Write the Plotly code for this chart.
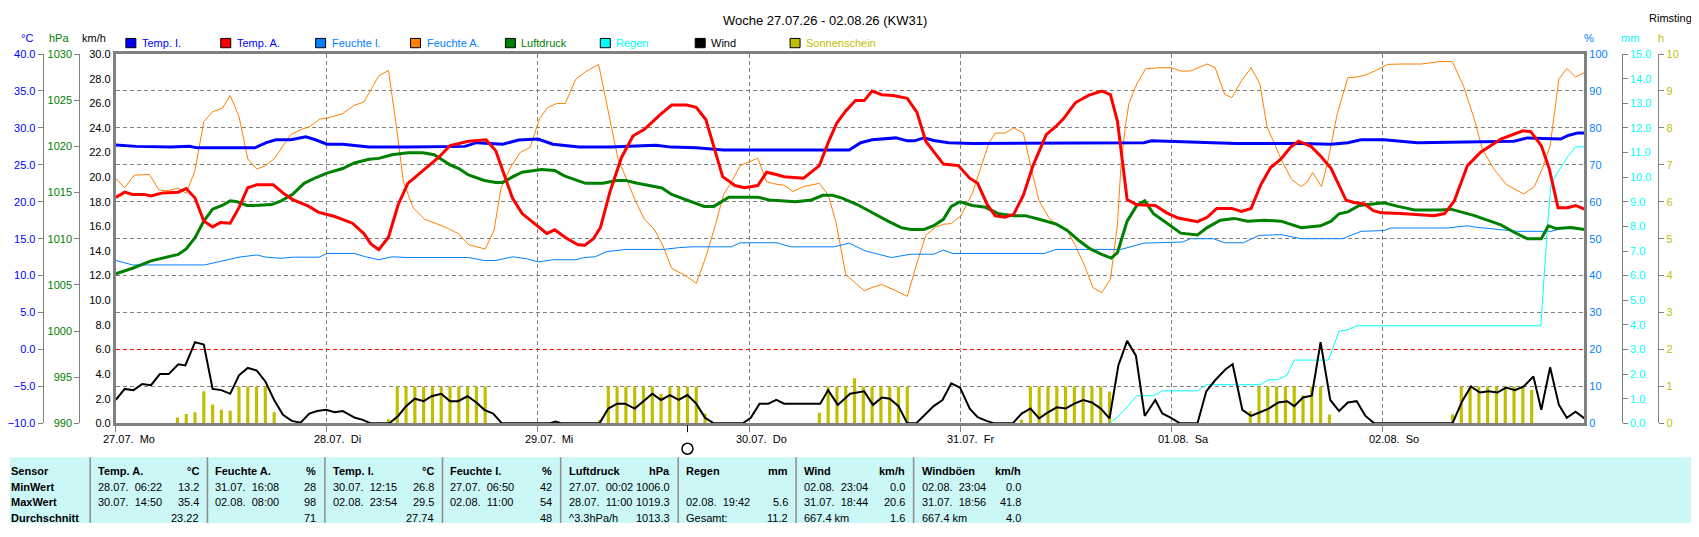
import plotly.graph_objects as go

# the page body has an 8px margin on every side, so the figure is drawn 16px smaller
OFF = 8
W, H = 1699 - OFF, 537 - 2 * OFF

# time axis: hours since 27.07.26 00:00
x_end = 166.97
day_hours = [0, 24, 48, 72, 96, 120, 144]
day_labels = ["27.07.  Mo", "28.07.  Di", "29.07.  Mi", "30.07.  Do", "31.07.  Fr", "01.08.  Sa", "02.08.  So"]

# (hour, value) pairs
temp_i = [(0, 27.7), (1, 27.6), (2.3, 27.5), (6.2, 27.4), (8.4, 27.5), (9.2, 27.3), (15.8, 27.3), (17.1, 28.0),
          (18.2, 28.4), (19.9, 28.4), (21.6, 28.8), (22.7, 28.4), (24, 27.8), (25.8, 27.8), (28.8, 27.4),
          (33.2, 27.4), (39.7, 27.5), (41, 28.0), (44, 27.8), (45.8, 28.35), (48, 28.5), (49.7, 27.8),
          (52.7, 27.4), (56.2, 27.4), (61.4, 27.65), (63.2, 27.4), (66, 27.3), (69.1, 27.0), (83.4, 27.0),
          (84.7, 28.0), (86, 28.4), (88.7, 28.65), (90, 28.25), (90.8, 28.25), (91.9, 28.65), (93, 28.3),
          (94.7, 28.0), (97.4, 27.9), (106.9, 27.9), (107.8, 28.0), (114.3, 27.9), (116.9, 28.0), (117.8, 28.25),
          (119.1, 28.2), (123, 28.1), (127.4, 27.9), (134.8, 27.9), (138.2, 27.8), (140.1, 28.0), (141.6, 28.4),
          (144.2, 28.4), (146.1, 28.2), (148, 28.0), (159, 28.2), (160.5, 28.65), (164.3, 28.5), (165.1, 28.95),
          (166.2, 29.3), (167, 29.3)]

temp_a = [(0, 20.6), (1, 21.3), (1.9, 21.0), (3.2, 21.0), (4, 20.8), (5.3, 21.2), (7.1, 21.3), (8, 21.8),
          (9, 20.5), (10, 17.4), (11, 16.6), (11.9, 17.2), (13, 17.1), (14, 19.2), (15, 21.9), (16, 22.3),
          (17.9, 22.3), (19, 21.2), (20.1, 20.3), (21.9, 19.4), (23, 18.6), (24.9, 18.0), (26.9, 17.1),
          (28.2, 15.7), (29, 14.3), (29.9, 13.5), (31, 15.2), (32.1, 19.6), (33.2, 22.5), (34.7, 24.0),
          (36.7, 26.0), (38, 27.6), (40.1, 28.2), (42.1, 28.4), (43.2, 26.9), (44.3, 23.2), (45.1, 20.5),
          (46.2, 18.4), (47.5, 17.1), (49, 15.7), (49.9, 16.2), (51.2, 15.1), (52.5, 14.2), (53.3, 14.1),
          (54.3, 15.0), (55.1, 16.5), (56.2, 21.4), (57.5, 26.0), (58.8, 28.9), (60.1, 29.8), (61.9, 31.8),
          (63.2, 33.1), (64.9, 33.1), (66, 32.8), (67.1, 31.1), (68, 27.6), (69, 23.4), (70.4, 22.2),
          (71.5, 21.9), (73, 22.2), (74, 24.0), (75.1, 23.7), (76, 23.4), (78.2, 23.2), (80, 24.9), (81, 28.0),
          (82, 30.7), (83, 32.3), (84.1, 33.7), (85.1, 33.7), (86, 35.0), (87.1, 34.5), (88.4, 34.4),
          (90, 34.0), (91.1, 32.1), (92.1, 28.2), (94.1, 25.1), (95.8, 24.9), (97.1, 23.2), (98, 22.5),
          (99.1, 19.6), (100, 18.1), (101.1, 17.9), (102.1, 18.3), (103.2, 20.9), (104.3, 24.9), (105.8, 29.1),
          (106.9, 30.2), (107.8, 31.3), (109.1, 33.4), (110.6, 34.4), (112.1, 35.0), (113.1, 34.5),
          (113.9, 30.9), (114.5, 24.9), (115, 20.3), (116.1, 19.6), (118.2, 19.5), (119.5, 18.5), (120.8, 17.8),
          (123, 17.3), (124.1, 17.9), (125.2, 19.1), (126.9, 19.1), (128, 18.7), (129.1, 19.1), (130.2, 22.3),
          (131.3, 24.6), (132.5, 25.8), (133.6, 27.4), (134.5, 28.2), (135.9, 27.5), (137, 26.2), (138.2, 24.5),
          (139.9, 20.2), (140.8, 19.9), (142, 19.7), (143, 18.8), (143.9, 18.5), (146.1, 18.4), (149.9, 18.1),
          (151.1, 18.4), (152.2, 20.1), (153.7, 24.9), (155.2, 26.7), (157.5, 28.5), (160, 29.6), (160.9, 29.5),
          (162.1, 27.6), (163, 24.5), (164, 19.2), (165.1, 19.2), (166, 19.5), (167, 19.0)]

feuchte_a = [(0, 66.3), (1, 63.8), (2.1, 67.2), (3.8, 67.4), (4.9, 63.2), (6, 63.0), (7.1, 63.7), (8, 62.3),
             (9, 68.5), (10, 81.7), (11, 84.4), (12.1, 85.3), (13, 88.8), (14, 83.1), (15, 71.6), (16, 68.9),
             (16.9, 69.6), (18, 71.6), (19, 75.1), (19.9, 78.2), (21, 79.5), (22.1, 80.4), (23.2, 82.4),
             (24, 82.6), (25.8, 83.9), (27.1, 86.1), (28.2, 87.0), (29, 90.5), (29.9, 94.1), (31, 95.6),
             (31.9, 80.4), (32.7, 65.4), (33.8, 58.4), (35.1, 55.3), (36.4, 54.1), (37.5, 53.1), (39, 51.3),
             (40.1, 48.4), (42, 47.2), (43, 52.2), (43.8, 63.7), (44.9, 69.4), (46, 73.4), (47.1, 74.7),
             (48.2, 82.6), (49.1, 85.5), (50.1, 86.6), (51.1, 86.6), (52.3, 93.2), (53.4, 95.2), (54.9, 97.2),
             (56.2, 82.2), (57.1, 71.6), (58.2, 65.4), (59.1, 60.1), (60.1, 55.3), (61.2, 52.6), (62.1, 48.7),
             (63.2, 42.0), (64.9, 39.8), (66, 37.9), (67.1, 45.1), (68.2, 53.9), (69.1, 61.9), (70, 65.4),
             (71, 69.8), (73, 71.8), (74, 65.4), (75.2, 64.7), (76, 64.5), (77, 62.8), (78.2, 64.1), (80, 65.0),
             (81, 61.9), (81.9, 54.4), (83, 40.3), (84.1, 38.1), (85.1, 35.9), (86, 36.8), (87.1, 37.6),
             (88.7, 35.9), (90, 34.4), (91.1, 43.4), (92.1, 50.9), (93.2, 53.1), (94.1, 53.9), (95, 54.1),
             (96.1, 56.2), (97.4, 62.3), (98.4, 69.8), (99.3, 76.0), (100, 78.6), (101.1, 78.6), (102.1, 80.0),
             (103.2, 78.6), (104.1, 68.9), (105, 60.1), (106.1, 55.7), (107.1, 53.5), (108.2, 52.2),
             (109.1, 48.2), (110.2, 42.5), (111.1, 36.8), (112.1, 35.4), (113.1, 39.0), (113.9, 53.9),
             (114.3, 69.8), (114.8, 80.4), (115.2, 86.6), (116.1, 91.9), (117.1, 96.0), (118.7, 96.3),
             (120, 96.3), (121.1, 95.4), (122.2, 95.4), (124.1, 97.3), (125, 96.3), (126.1, 89.1), (126.9, 88.2),
             (128, 92.8), (129.1, 96.3), (130.1, 91.9), (130.9, 80.4), (131.7, 76.0), (132.5, 71.6),
             (133.7, 66.0), (134.8, 64.1), (135.5, 65.4), (136.1, 67.9), (137.1, 64.1), (137.8, 70.7),
             (138.9, 83.9), (140.1, 93.6), (141.2, 93.8), (142.3, 94.5), (143.5, 95.8), (144.6, 97.2),
             (146.1, 97.3), (148.4, 97.3), (150.7, 98.0), (152, 97.9), (153.3, 91.0), (154.5, 82.2),
             (155.4, 74.2), (156.7, 68.9), (158.1, 64.7), (159, 63.5), (160.1, 62.1), (161.3, 64.1),
             (162.2, 68.9), (163.1, 75.1), (163.6, 83.9), (164.1, 93.2), (165, 96.1), (166, 93.8), (167, 95.0)]

feuchte_i = [(0, 44.1), (1.9, 42.9), (10.1, 42.9), (12.3, 44.1), (14, 45.0), (16, 45.6), (17.1, 45.0),
             (18.8, 44.7), (20.1, 45.0), (23.1, 45.0), (24, 46.0), (27.1, 46.0), (28.4, 45.1), (29.9, 44.3),
             (31.4, 45.1), (33.2, 44.9), (40.1, 44.9), (41.9, 44.1), (43.2, 44.1), (45.1, 45.1), (46.7, 44.6),
             (48, 43.7), (49.7, 44.3), (52.3, 44.3), (53.2, 44.9), (54.5, 45.1), (55.8, 46.5), (58, 47.1),
             (62.3, 47.1), (64.1, 47.6), (65.6, 47.8), (70, 47.8), (71, 48.9), (75.2, 48.9), (76.7, 47.8),
             (81.7, 47.8), (83.4, 48.8), (85.2, 46.7), (88.2, 44.9), (90.4, 45.8), (93, 45.8), (94.1, 46.9),
             (95.2, 46.0), (105.6, 46.0), (106.9, 47.1), (114.3, 47.1), (116.9, 48.8), (121.3, 49.1),
             (122.2, 50.0), (124.8, 50.0), (126.1, 48.9), (128.2, 48.9), (130, 50.9), (132.5, 51.1),
             (134.8, 50.0), (139.5, 50.0), (140.5, 51.0), (141.6, 52.0), (144.2, 52.2), (145, 52.9),
             (151.4, 52.9), (153.7, 53.5), (154.7, 53.1), (157.5, 52.5), (159.4, 52.0), (163.2, 52.0),
             (164.7, 52.9), (167, 52.5)]

luftdruck = [(0, 1006.2), (1.9, 1006.8), (4, 1007.6), (5.3, 1007.9), (7.1, 1008.3), (8, 1008.9), (9, 1010.1),
             (10, 1011.9), (11, 1013.2), (12.1, 1013.6), (13, 1014.1), (13.8, 1014.0), (14.9, 1013.6),
             (15.8, 1013.6), (17.7, 1013.7), (18.8, 1014.1), (20.1, 1014.8), (21.4, 1016.0), (22.7, 1016.6),
             (24, 1017.1), (25.8, 1017.6), (27.1, 1018.2), (28.8, 1018.6), (29.9, 1018.7), (31.4, 1019.1),
             (33.2, 1019.3), (34.9, 1019.3), (36.2, 1019.1), (38, 1018.0), (39, 1017.6), (40.1, 1016.9),
             (41.9, 1016.3), (43.2, 1016.1), (44, 1016.1), (45.1, 1016.7), (46.2, 1017.2), (48.4, 1017.5),
             (49.9, 1017.4), (51, 1016.8), (53.4, 1016.0), (55.4, 1016.0), (56.9, 1016.3), (58, 1016.3),
             (59.3, 1016.0), (61, 1015.7), (62.1, 1015.5), (63.2, 1014.8), (64.9, 1014.2), (65.6, 1013.9),
             (66.9, 1013.5), (68, 1013.5), (69.1, 1014.2), (69.7, 1014.5), (73, 1014.5), (74.3, 1014.2),
             (75.6, 1014.1), (77.3, 1014.0), (79.1, 1014.2), (80.4, 1014.7), (81.5, 1014.7), (82.6, 1014.4),
             (84.3, 1013.7), (86, 1012.8), (87.8, 1011.9), (89.3, 1011.2), (90.4, 1011.0), (91.9, 1011.0),
             (93, 1011.4), (94.1, 1012.1), (95, 1013.5), (96, 1014.0), (97.4, 1013.6), (98.9, 1013.4),
             (100.4, 1012.7), (102.1, 1012.5), (103.4, 1012.5), (105, 1012.1), (106.9, 1011.6), (108.2, 1010.9),
             (109.5, 1009.8), (110.8, 1008.9), (112.1, 1008.3), (113.2, 1007.9), (113.9, 1008.5), (115, 1011.9),
             (116.1, 1013.6), (117, 1014.1), (118, 1012.7), (119.5, 1011.7), (121.1, 1010.6), (123, 1010.4),
             (124.1, 1011.2), (125.6, 1012.0), (127.2, 1012.2), (128.7, 1011.9), (130.6, 1012.0),
             (132.5, 1011.9), (134.8, 1011.2), (137, 1011.4), (138.2, 1011.9), (139.1, 1012.7), (140.1, 1012.9),
             (141.4, 1013.6), (142.3, 1013.7), (144.2, 1013.9), (145.8, 1013.5), (147.7, 1013.1),
             (150.7, 1013.1), (151.8, 1013.2), (154.5, 1012.5), (157.5, 1011.5), (159, 1010.7), (160.5, 1010.0),
             (162.1, 1010.0), (162.9, 1011.4), (163.8, 1011.1), (165.5, 1011.2), (167, 1011.0)]

regen = [(113, 0.0), (114, 0.28), (115, 0.67), (116.1, 1.12), (118, 1.12), (119, 1.32), (123, 1.32), (124, 1.57),
         (130.1, 1.57), (131.1, 1.77), (132.1, 1.77), (133.2, 1.96), (134, 2.57), (137.9, 2.57), (139.1, 3.74),
         (140.1, 3.8), (141.1, 3.96), (162.05, 3.96), (162.8, 8.0), (163.2, 9.7), (163.8, 10.1), (165.1, 10.83),
         (166, 11.23), (167, 11.23)]

wind = [(0, 1.9), (1, 2.8), (2, 2.7), (3, 3.2), (4, 3.1), (5, 4.0), (6, 4.0), (7.1, 4.8), (7.9, 4.7), (9, 6.6),
        (10, 6.4), (11, 2.8), (12, 2.7), (13, 2.4), (14, 3.9), (15, 4.5), (16, 4.3), (17, 3.4), (18, 1.9),
        (19, 0.7), (20, 0.2), (21, 0.05), (22, 0.8), (22.9, 1.0), (23.9, 1.1), (24.9, 0.9), (25.8, 1.0),
        (27.2, 0.45), (28, 0.3), (29, 0), (31.1, 0), (32.1, 0.6), (33, 1.4), (34, 2.0), (35, 1.8), (35.9, 2.2),
        (37, 2.4), (38, 1.8), (38.9, 1.8), (40, 2.2), (41, 1.7), (41.9, 1.1), (42.9, 0.8), (43.9, 0), (49.3, 0),
        (50, 0.15), (50.7, 0), (55, 0), (56, 1.2), (57, 1.6), (57.9, 1.6), (59, 1.2), (60, 1.8), (61, 2.4),
        (62, 1.9), (63, 2.3), (64, 1.9), (65, 2.3), (66, 1.6), (67, 0.45), (68, 0), (71.3, 0), (72.2, 0.45),
        (73.2, 1.6), (74.2, 1.6), (75.1, 1.9), (76, 1.6), (80.1, 1.6), (81, 2.7), (82.1, 1.5), (83.5, 2.4),
        (85.1, 2.6), (86.1, 1.5), (87.1, 2.1), (88, 2.0), (89, 1.4), (90, 0), (91, 0), (92, 0.7), (93, 1.4),
        (94, 1.9), (95, 3.25), (96, 2.9), (97.1, 1.2), (98, 0.5), (99, 0.2), (99.9, 0), (102, 0), (103, 0.8),
        (104, 1.2), (105, 0.4), (106, 0.9), (107, 1.3), (108, 1.2), (109, 1.6), (110, 1.9), (111, 1.7),
        (112, 1.2), (113, 0.4), (114, 4.7), (115, 6.7), (116, 5.5), (117, 0.6), (118.2, 1.9), (119, 0.8),
        (120, 0.45), (121, 0), (123, 0), (124, 2.6), (125, 3.5), (126.2, 4.4), (127, 4.8), (128.1, 1.1),
        (129.1, 0.6), (130.1, 0.9), (131.1, 1.2), (132.2, 1.7), (133.2, 1.8), (134, 1.4), (135, 2.1),
        (136, 2.25), (137, 6.6), (138.1, 1.9), (139.1, 1.0), (140.1, 1.7), (141.1, 1.8), (142.1, 0.6),
        (143.1, 0), (152, 0), (153.1, 1.8), (154.1, 3.0), (155.1, 2.5), (156.1, 2.6), (157.1, 2.5),
        (158.1, 2.9), (159.1, 2.7), (160.1, 3.0), (161.2, 3.8), (162.1, 1.1), (163.1, 4.55), (164.1, 1.5),
        (165, 0.45), (166, 0.95), (167, 0.4)]

sonne = [(7, 0.16), (8, 0.25), (9, 0.3), (10, 0.87), (11, 0.51), (12, 0.37), (13, 0.34), (14, 1), (15, 1),
         (16, 1), (17, 1), (18, 0.3),
         (31, 0.11), (32, 1), (33, 1), (34, 1), (35, 1), (36, 1), (37, 1), (38, 1), (39, 1), (40, 1), (41, 1),
         (42, 1),
         (55, 0.09), (56, 1), (57, 1), (58, 1), (59, 1), (60, 1), (61, 1), (62, 0.8), (63, 1), (64, 1), (65, 1),
         (66, 1), (67, 0.27),
         (80, 0.29), (81, 1), (82, 1), (83, 1), (84, 1.22), (85, 1), (86, 1), (87, 1), (88, 1), (89, 1), (90, 1),
         (103, 0.1), (104, 1), (105, 1), (106, 1), (107, 1), (108, 1), (109, 1), (110, 1), (111, 1), (112, 1),
         (113, 0.86),
         (129, 0.33), (130, 1), (131, 1), (132, 1), (133, 1), (134, 1), (135, 0.76), (136, 1), (137, 1),
         (138, 0.24),
         (152, 0.24), (153, 1), (154, 1), (155, 1), (156, 1), (157, 1), (158, 1), (159, 1), (160, 1), (161, 0.9)]

moon_hour = 65  # full moon marker
wind_limit_pct = 20  # red dashed line

legend_names = ["Temp. I.", "Temp. A.", "Feuchte I.", "Feuchte A.", "Luftdruck", "Regen", "Wind", "Sonnenschein"]

row_labels = ["Sensor", "MinWert", "MaxWert", "Durchschnitt"]
table_head = [("Temp. A.", "°C"), ("Feuchte A.", "%"), ("Temp. I.", "°C"), ("Feuchte I.", "%"),
              ("Luftdruck", "hPa"), ("Regen", "mm"), ("Wind", "km/h"), ("Windböen", "km/h")]
table_min = [("28.07.  06:22", "13.2"), ("31.07.  16:08", "28"), ("30.07.  12:15", "26.8"),
             ("27.07.  06:50", "42"), ("27.07.  00:02", "1006.0"), ("", ""), ("02.08.  23:04", "0.0"),
             ("02.08.  23:04", "0.0")]
table_max = [("30.07.  14:50", "35.4"), ("02.08.  08:00", "98"), ("02.08.  23:54", "29.5"),
             ("02.08.  11:00", "54"), ("28.07.  11:00", "1019.3"), ("02.08.  19:42", "5.6"),
             ("31.07.  18:44", "20.6"), ("31.07.  18:56", "41.8")]
table_avg = [("", "23.22"), ("", "71"), ("", "27.74"), ("", "48"), ("^3.3hPa/h", "1013.3"),
             ("Gesamt:", "11.2"), ("667.4 km", "1.6"), ("667.4 km", "4.0")]

BLUE, RED, FI, FA = "#0000ff", "#ff0000", "#0080ff", "#ff8000"
GREEN, CYAN, BLACK, OLIVE = "#008000", "#00ffff", "#000000", "#bfbf00"
GRAY = "#808080"
FONT = "Liberation Sans"

legend_box = [BLUE, RED, FI, FA, GREEN, CYAN, BLACK, OLIVE]
legend_txt = [BLUE, BLUE, FI, FI, GREEN, CYAN, BLACK, OLIVE]


# positions below are given in pixels of the 1699x537 page
def xp(px):
    return (px - OFF) / W


def yp(py):
    return 1 - (py - OFF) / H


def split(pairs):
    return [p[0] for p in pairs], [p[1] for p in pairs]


def nb(s):
    return s.replace("  ", "\u00a0 ")


fig = go.Figure()

sx, sy = split(sonne)
fig.add_trace(go.Bar(x=sx, y=sy, width=0.36, marker=dict(color=OLIVE, line_width=0), yaxis="y"))

# red dashed line over the 20 % grid line (white underlay hides the grey dash)
for col, dash in [("white", "solid"), (RED, "4px,3px")]:
    fig.add_trace(go.Scatter(x=[0, x_end], y=[wind_limit_pct, wind_limit_pct], mode="lines",
                             line=dict(color=col, width=1, dash=dash), yaxis="y2"))

for data, col in [(feuchte_a, FA), (feuchte_i, FI)]:
    hx, hy = split(data)
    fig.add_trace(go.Scatter(x=hx, y=hy, mode="lines", line=dict(color=col, width=1), yaxis="y2"))

rx, ry = split(regen)
fig.add_trace(go.Scatter(x=rx, y=ry, mode="lines", line=dict(color=CYAN, width=1), yaxis="y3"))

lx, ly = split(luftdruck)
fig.add_trace(go.Scatter(x=lx, y=ly, mode="lines", line=dict(color=GREEN, width=3), yaxis="y4"))

for data, col in [(temp_i, BLUE), (temp_a, RED)]:
    tx, ty = split(data)
    fig.add_trace(go.Scatter(x=tx, y=ty, mode="lines", line=dict(color=col, width=3), yaxis="y5"))

wx, wy = split(wind)
fig.add_trace(go.Scatter(x=wx, y=wy, mode="lines", line=dict(color=BLACK, width=2), yaxis="y6"))

tick_font = dict(family=FONT, size=11)
dom = [yp(427), yp(49)]

fig.update_layout(
    width=W, height=H, autosize=False,
    margin=dict(l=0, r=0, t=0, b=0),
    paper_bgcolor="white", plot_bgcolor="white",
    showlegend=False,
    font=dict(family=FONT, size=11, color="black"),
    xaxis=dict(domain=[xp(114), xp(1584)], range=[0, x_end], tickvals=day_hours, showticklabels=False,
               ticks="outside", ticklen=6, tickcolor=GRAY, showgrid=True, gridcolor=GRAY, griddash="4px,3px",
               showline=True, linecolor=GRAY, linewidth=3, mirror=True, zeroline=False),
    yaxis=dict(domain=dom, range=[0, 10], dtick=1, anchor="free", position=xp(1658.3), side="right",
               showline=True, linecolor=GRAY, linewidth=1, ticks="outside", ticklen=5, tickcolor=GRAY,
               tickfont=dict(tick_font, color=OLIVE), showgrid=False, zeroline=False),
    yaxis2=dict(range=[0, 100], dtick=10, overlaying="y", anchor="x", side="right", showline=True,
                linecolor=GRAY, linewidth=3, ticks="", tickfont=dict(tick_font, color=FI),
                showgrid=True, gridcolor=GRAY, griddash="4px,3px", zeroline=False),
    yaxis3=dict(range=[0, 15], dtick=1, tickformat=".1f", overlaying="y", anchor="free", position=xp(1621.7),
                side="right", showline=True, linecolor=GRAY, linewidth=1, ticks="outside", ticklen=5,
                tickcolor=GRAY, tickfont=dict(tick_font, color=CYAN), showgrid=False, zeroline=False),
    yaxis4=dict(range=[990, 1030], dtick=5, overlaying="y", anchor="free", position=xp(77.3), side="left",
                showline=True, linecolor=GRAY, linewidth=1, ticks="outside", ticklen=5, tickcolor=GRAY,
                tickfont=dict(tick_font, color=GREEN), showgrid=False, zeroline=False),
    yaxis5=dict(range=[-10, 40], dtick=5, tickformat=".1f", overlaying="y", anchor="free", position=xp(40.7),
                side="left", showline=True, linecolor=GRAY, linewidth=1, ticks="outside", ticklen=5,
                tickcolor=GRAY, tickfont=dict(tick_font, color=BLUE), showgrid=False, zeroline=False),
    yaxis6=dict(range=[0, 30], dtick=2, tickformat=".1f", overlaying="y", anchor="x", side="left",
                showline=True, linecolor=GRAY, linewidth=3, ticks="", tickfont=dict(tick_font, color=BLACK),
                showgrid=False, zeroline=False),
)


def text(x, y, s, color="black", size=11, anchor="left", bold=False):
    if bold:
        s = "<b>" + s + "</b>"
    fig.add_annotation(x=x, y=y, xref="paper", yref="paper", text=nb(s), showarrow=False, xanchor=anchor,
                       yanchor="middle", font=dict(family=FONT, size=size, color=color), borderpad=0)


# title and station
text(xp(823.5), yp(15), "Woche 27.07.26 - 02.08.26 (KW31)", size=13, anchor="center")
text(xp(1693), yp(12.5), "Rimsting", size=11, anchor="right")

# axis headers
for cx, s, col in [(25, "°C", BLUE), (57.5, "hPa", GREEN), (92, "km/h", BLACK),
                   (1588.5, "%", FI), (1629.5, "mm", CYAN), (1661, "h", OLIVE)]:
    text(xp(cx), yp(33), s, color=col, anchor="center")

# legend
for i, name in enumerate(legend_names):
    left = 124 + i * 95.0
    fig.add_shape(type="rect", xref="paper", yref="paper", x0=xp(left), x1=xp(left + 10), y0=yp(42.5),
                  y1=yp(33), fillcolor=legend_box[i], line=dict(color="black", width=1))
    text(xp(left + 15), yp(37.7), name, color=legend_txt[i])

# day labels under the x axis
for hr, lab in zip(day_hours, day_labels):
    fig.add_annotation(x=hr, y=yp(443), xref="x", yref="paper", text=nb(lab), showarrow=False,
                       xanchor="left", yanchor="middle", xshift=-15, font=dict(family=FONT, size=11))

# moon marker
fig.add_shape(type="line", xref="x", yref="paper", x0=moon_hour, x1=moon_hour, y0=yp(429), y1=yp(436),
              line=dict(color="black", width=1))
fig.add_shape(type="circle", xref="x", yref="paper", xsizemode="pixel", ysizemode="pixel",
              xanchor=moon_hour, yanchor=yp(453), x0=-5.5, x1=5.5, y0=-5.5, y1=5.5,
              line=dict(color="black", width=1.5), fillcolor="white")

# statistics table
fig.add_shape(type="rect", xref="paper", yref="paper", x0=0, x1=1, y0=0, y1=yp(461.7),
              fillcolor="#ccf7f7", line_width=0, layer="below")
col_sep = [88.3, 205.7, 323.3, 441.0, 559.3, 677.0, 795.0, 912.7, 1029.0]
for sep in col_sep[:-1]:
    fig.add_shape(type="line", xref="paper", yref="paper", x0=xp(sep), x1=xp(sep), y0=yp(461.7), y1=0,
                  line=dict(color="#8c8c8c", width=1.5))

row_y = [476, 492, 508, 524]
for ry_, lab in zip(row_y, row_labels):
    text(xp(8.3), yp(ry_), lab, bold=True)

for rowi, row in enumerate([table_head, table_min, table_max, table_avg]):
    for ci, (left_s, right_s) in enumerate(row):
        x_left = col_sep[ci] + 7
        x_right = col_sep[ci + 1] - 7.5
        if left_s:
            text(xp(x_left), yp(row_y[rowi]), left_s, bold=(rowi == 0))
        if right_s:
            text(xp(x_right), yp(row_y[rowi]), right_s, anchor="right", bold=(rowi == 0))

fig.write_html("out.html")
